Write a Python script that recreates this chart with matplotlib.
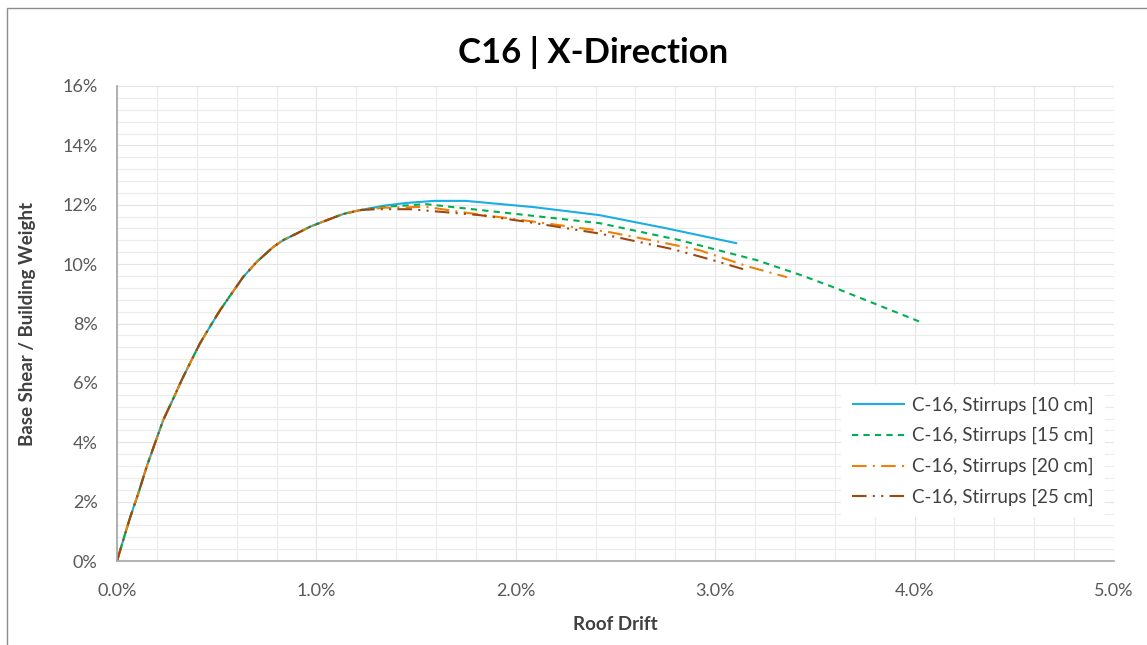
import matplotlib
matplotlib.use("Agg")
import matplotlib.pyplot as plt
from matplotlib.ticker import MultipleLocator, FuncFormatter
from matplotlib.patches import Rectangle

# Pushover curves: roof drift (%) vs base shear / building weight (%)
rise_drift = [0.0, 0.032, 0.065, 0.107, 0.149, 0.19, 0.232, 0.283, 0.324, 0.374,
              0.416, 0.466, 0.517, 0.575, 0.633, 0.70, 0.784, 0.834, 0.901, 0.968,
              1.068, 1.135, 1.22]
rise_shear = [0.0, 0.72, 1.45, 2.28, 3.18, 3.96, 4.75, 5.48, 6.09, 6.77,
              7.33, 7.89, 8.45, 9.01, 9.57, 10.07, 10.58, 10.81, 11.03, 11.26,
              11.52, 11.69, 11.82]

s10_drift = [1.34, 1.45, 1.59, 1.75, 2.09, 2.42, 2.76, 3.11]
s10_shear = [11.97, 12.06, 12.13, 12.13, 11.92, 11.65, 11.2, 10.7]

s15_drift = [1.34, 1.55, 1.92, 2.42, 2.82, 3.21, 3.43, 3.59, 4.03]
s15_shear = [11.93, 12.02, 11.75, 11.38, 10.81, 10.13, 9.63, 9.23, 8.05]

s20_drift = [1.34, 1.55, 1.72, 2.09, 2.46, 2.72, 2.92, 3.17, 3.36]
s20_shear = [11.9, 11.93, 11.76, 11.43, 11.09, 10.75, 10.47, 9.91, 9.56]

s25_drift = [1.3, 1.47, 1.82, 2.05, 2.42, 2.79, 2.99, 3.14]
s25_shear = [11.85, 11.85, 11.65, 11.43, 11.03, 10.5, 10.13, 9.83]

labels = ["C-16, Stirrups [10 cm]", "C-16, Stirrups [15 cm]",
          "C-16, Stirrups [20 cm]", "C-16, Stirrups [25 cm]"]
colors = ["#1CADE4", "#00B050", "#F07F09", "#9E480E"]
dashes = [None, (3, 2.5), (7, 3, 1, 3), (7, 3, 1, 3, 1, 3)]

plt.rcParams["font.family"] = ["Lato", "DejaVu Sans"]

fig = plt.figure(figsize=(11.47, 6.45), dpi=100)
ax = fig.add_axes([117 / 1147, 1 - 561 / 645, (1114 - 117) / 1147, (561 - 86) / 645])

series = [(s10_drift, s10_shear), (s15_drift, s15_shear),
          (s20_drift, s20_shear), (s25_drift, s25_shear)]
for (dx, sy), lab, col, ds in zip(series, labels, colors, dashes):
    x = rise_drift + dx
    y = rise_shear + sy
    line, = ax.plot(x, y, color=col, lw=1.5, label=lab, solid_capstyle="butt")
    if ds is not None:
        line.set_dashes(ds)

ax.set_xlim(0, 5)
ax.set_ylim(0, 16)
ax.xaxis.set_major_locator(MultipleLocator(1))
ax.xaxis.set_minor_locator(MultipleLocator(0.2))
ax.yaxis.set_major_locator(MultipleLocator(2))
ax.yaxis.set_minor_locator(MultipleLocator(0.4))
ax.xaxis.set_major_formatter(FuncFormatter(lambda v, p: f"{v:.1f}%"))
ax.yaxis.set_major_formatter(FuncFormatter(lambda v, p: f"{v:.0f}%"))

ax.grid(which="major", color="#E4E4E4", lw=0.8)
ax.grid(which="minor", color="#EBEBEB", lw=0.8)
ax.set_axisbelow(True)
ax.tick_params(which="both", length=0, labelsize=13, colors="#595959")
ax.tick_params(axis="x", pad=16)
ax.tick_params(axis="y", pad=14)
for side in ("top", "right"):
    ax.spines[side].set_visible(False)
for side in ("left", "bottom"):
    ax.spines[side].set_color("#A6A6A6")
    ax.spines[side].set_linewidth(1.2)

ax.set_xlabel("Roof Drift", fontsize=13.5, fontweight="bold", color="#404040", labelpad=12)
ax.set_ylabel("Base Shear / Building Weight", fontsize=13.5, fontweight="bold",
              color="#404040", labelpad=19)
fig.suptitle("C16 | X-Direction", fontsize=25, fontweight="bold", x=0.517, y=0.944)

leg = ax.legend(loc="lower right", bbox_to_anchor=(1.0, 0.072), fontsize=13.5,
                frameon=True, fancybox=False, edgecolor="none", facecolor="white",
                framealpha=1, handlelength=2.8, labelspacing=0.72, borderpad=0.6,
                handletextpad=0.35)
for t in leg.get_texts():
    t.set_color("#404040")

# chart area outline
fig.patches.append(Rectangle((7 / 1147, -0.05), 1.2, 1 - 8 / 645 + 0.05,
                             transform=fig.transFigure, fill=False,
                             edgecolor="#8C8C8C", lw=1.0))

fig.savefig("out.png", dpi=100)
